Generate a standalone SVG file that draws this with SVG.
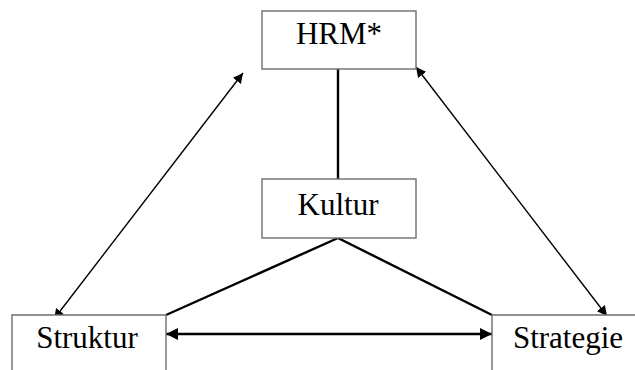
<svg xmlns="http://www.w3.org/2000/svg" width="635" height="370" viewBox="0 0 635 370">
  <style>
    .box { fill: #ffffff; stroke: #6e6e6e; stroke-width: 1.4; }
    .label { font-family: "Liberation Serif", "Times New Roman", serif; font-size: 31px; fill: #000000; }
    .thin { stroke: #000000; stroke-width: 1.4; fill: none; }
    .thick { stroke: #000000; stroke-width: 2.4; fill: none; }
  </style>
  <defs>
    <marker id="arrow" viewBox="0 0 10 10" refX="10" refY="5" markerWidth="10" markerHeight="10" markerUnits="userSpaceOnUse" orient="auto-start-reverse">
      <path d="M0,0 L10,5 L0,10 Z" fill="#000000"/>
    </marker>
    <marker id="arrowThick" viewBox="0 0 10 10" refX="10" refY="5" markerWidth="12" markerHeight="12" markerUnits="userSpaceOnUse" orient="auto-start-reverse">
      <path d="M0,0 L10,5 L0,10 Z" fill="#000000"/>
    </marker>
  </defs>

  <g id="connectors">
    <!-- HRM to Kultur -->
    <line class="thick" x1="338" y1="69" x2="338" y2="179"/>
    <!-- Kultur to the two lower boxes -->
    <line class="thick" x1="338" y1="238" x2="166" y2="315"/>
    <line class="thick" x1="338" y1="238" x2="492" y2="315"/>
    <!-- Struktur <-> Strategie -->
    <line class="thick" x1="166" y1="334" x2="492" y2="334" marker-start="url(#arrowThick)" marker-end="url(#arrowThick)"/>
    <!-- Struktur <-> HRM -->
    <line class="thin" x1="54" y1="319" x2="243" y2="73" marker-start="url(#arrow)" marker-end="url(#arrow)"/>
    <!-- HRM <-> Strategie -->
    <line class="thin" x1="416" y1="67" x2="607" y2="316" marker-start="url(#arrow)" marker-end="url(#arrow)"/>
  </g>

  <g id="hrm">
    <rect class="box" x="262" y="11" width="154" height="58"/>
    <text class="label" x="339" y="44" text-anchor="middle">HRM*</text>
  </g>

  <g id="kultur">
    <rect class="box" x="262" y="179" width="154" height="59"/>
    <text class="label" x="338" y="215" text-anchor="middle">Kultur</text>
  </g>

  <g id="struktur">
    <path class="box" d="M12,372 L12,315 L166,315 L166,372" />
    <text class="label" x="87" y="348" text-anchor="middle">Struktur</text>
  </g>

  <g id="strategie">
    <path class="box" d="M492,372 L492,315 L640,315" />
    <text class="label" x="568" y="348" text-anchor="middle">Strategie</text>
  </g>
</svg>
